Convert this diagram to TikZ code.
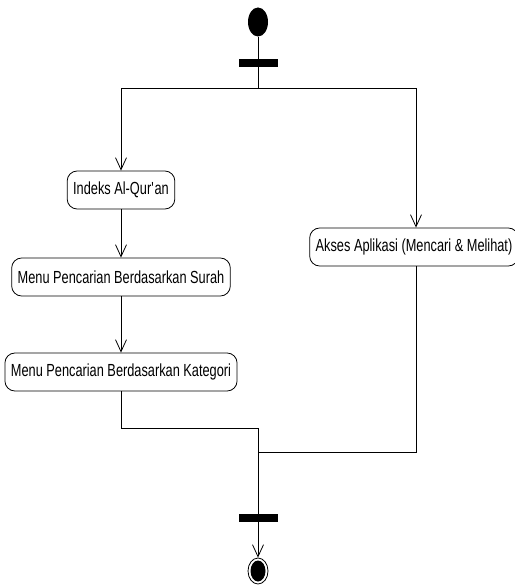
\documentclass[tikz,border=0pt]{standalone}
\usepackage{fontspec}
\setmainfont{Liberation Sans}[FakeStretch=0.73]
\usetikzlibrary{shapes.geometric,arrows.meta,positioning}

\begin{document}
\begin{tikzpicture}[x=1pt, y=-1pt,
    activity/.style={draw, thick, rounded corners=10pt, minimum height=38pt, inner xsep=6pt,
        font=\fontsize{17.5}{20}\selectfont},
    bar/.style={fill=black, inner sep=0pt, minimum width=39pt, minimum height=8pt},
    arr/.style={-{Straight Barb[length=12pt, width=11pt]}, thick},
    flow/.style={thick}]

    \useasboundingbox (0,0) rectangle (514,585);

    % Start and fork
    \node[ellipse, fill=black, inner sep=0pt, minimum width=20pt, minimum height=29pt] (start) at (258,22) {};
    \node[bar] (fork) at (258,63) {};
    \coordinate (split) at (258,88);

    % Activities
    \node[activity] (indeks) at (121,190) {Indeks Al-Qur\textquotesingle an};
    \node[activity] (surah) at (121,277) {Menu Pencarian Berdasarkan Surah};
    \node[activity] (kategori) at (121,372) {Menu Pencarian Berdasarkan Kategori};
    \node[activity] (akses) at (414,247) {Akses Aplikasi (Mencari \& Melihat)};

    % Join and end
    \coordinate (merge) at (258,428);
    \coordinate (merge2) at (258,452);
    \node[bar] (join) at (258,518) {};
    \node[ellipse, draw, thick, inner sep=0pt, minimum width=20pt, minimum height=26pt] (final) at (258,571) {};
    \node[ellipse, fill=black, inner sep=0pt, minimum width=15pt, minimum height=21pt] (finaldot) at (final) {};

    % Connections
    \draw[flow] (start) -- (fork);
    \draw[flow] (fork) -- (split);
    \draw[arr] (split) -| (indeks.north);
    \draw[arr] (split) -| ([xshift=2pt]akses.north);
    \draw[arr] (indeks) -- (surah);
    \draw[arr] (surah) -- (kategori);
    \draw[flow] (kategori.south) |- (merge);
    \draw[flow] ([xshift=2pt]akses.south) |- (merge2);
    \draw[flow] (merge) -- (join);
    \draw[arr] (join) -- (final);
\end{tikzpicture}
\end{document}
